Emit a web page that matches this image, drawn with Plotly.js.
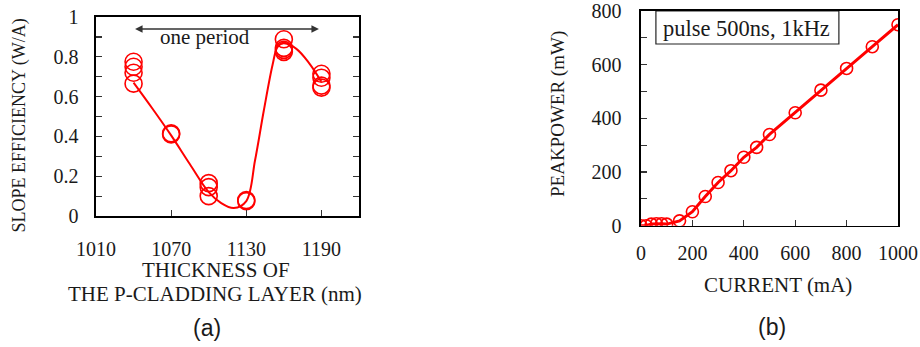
<!DOCTYPE html>
<html>
<head>
<meta charset="utf-8">
<script src="https://cdn.plot.ly/plotly-3.0.1.min.js"></script>
<style>
  html, body { margin: 0; padding: 0; background: #ffffff; }
  #chart { width: 920px; height: 347px; }
</style>
</head>
<body>
<div id="chart"></div>
<script>
// ---- Panel (a): slope efficiency vs p-cladding thickness ----
const thicknessMeasured = [1040, 1040, 1040, 1040, 1070, 1070, 1100, 1100, 1100, 1130, 1130, 1160, 1160, 1160, 1160, 1190, 1190, 1190, 1190];
const slopeMeasured     = [0.775, 0.75, 0.72, 0.665, 0.415, 0.41, 0.165, 0.145, 0.10, 0.08, 0.075, 0.888, 0.845, 0.835, 0.825, 0.715, 0.695, 0.655, 0.645];
// smooth guide line
const thicknessGuide = [1040, 1055, 1070, 1085, 1100, 1110, 1120, 1130, 1137, 1144, 1151, 1155, 1160, 1170, 1180, 1190];
const slopeGuide     = [0.67, 0.54, 0.405, 0.26, 0.12, 0.065, 0.04, 0.075, 0.28, 0.53, 0.76, 0.85, 0.87, 0.84, 0.77, 0.675];

// ---- Panel (b): peak power vs current ----
const currentMA   = [0, 20, 40, 60, 80, 100, 150, 200, 250, 300, 350, 400, 450, 500, 600, 700, 800, 900, 1000];
const peakPowerMW = [0, 0, 6, 7, 7, 6, 18, 52, 109, 161, 205, 255, 292, 340, 421, 505, 586, 667, 749];

const xTicksA = [1010, 1070, 1130, 1190];
const yTicksA = [0, 0.2, 0.4, 0.6, 0.8, 1];
const yTickTextA = ['0', '0.2', '0.4', '0.6', '0.8', '1'];
const xTicksB = [0, 200, 400, 600, 800, 1000];
const yTicksB = [0, 200, 400, 600, 800];

const RED = '#ff0000';
const SERIF = '"Liberation Serif", "Times New Roman", serif';
const SANS = '"Liberation Sans", Arial, sans-serif';
const TXT = '#1a1a1a';
const W = 920, H = 347;
const px = v => v / W;          // paper x from pixel
const py = v => 1 - v / H;      // paper y from pixel

const traces = [
  { x: thicknessGuide, y: slopeGuide, xaxis: 'x', yaxis: 'y', mode: 'lines',
    line: { color: RED, width: 2, shape: 'spline', smoothing: 1 }, hoverinfo: 'skip' },
  { x: thicknessMeasured, y: slopeMeasured, xaxis: 'x', yaxis: 'y', mode: 'markers',
    marker: { symbol: 'circle-open', size: 17, color: RED, line: { width: 1.6, color: RED } } },
  { x: currentMA, y: peakPowerMW, xaxis: 'x2', yaxis: 'y2', mode: 'lines+markers',
    line: { color: RED, width: 3 },
    marker: { symbol: 'circle-open', size: 12, color: RED, line: { width: 1.6, color: RED } } }
];

const axisCommon = {
  showline: true, linecolor: '#000', linewidth: 1.6,
  ticks: 'inside', ticklen: 6, tickwidth: 1.2, tickcolor: '#333',
  showgrid: false, zeroline: false,
  tickfont: { family: SERIF, size: 20, color: TXT },
  automargin: false
};

function label(text, x, y, size, angle, family) {
  return { xref: 'paper', yref: 'paper', x: px(x), y: py(y), xanchor: 'center', yanchor: 'middle',
    text: text, showarrow: false, textangle: angle || 0,
    font: { family: family || SERIF, size: size, color: TXT } };
}

const layout = {
  width: W, height: H,
  margin: { l: 0, r: 0, t: 0, b: 0 },
  paper_bgcolor: '#fff', plot_bgcolor: '#fff',
  showlegend: false,
  font: { family: SERIF, color: TXT },
  xaxis: Object.assign({}, axisCommon, {
    domain: [px(96), px(359)], range: [1010, 1220],
    tickvals: xTicksA, ticktext: xTicksA.map(String), mirror: true,
    ticklabelstandoff: 14
  }),
  yaxis: Object.assign({}, axisCommon, {
    domain: [py(216), py(17)], range: [0, 1],
    tickvals: yTicksA, ticktext: yTickTextA, mirror: 'ticks',
    ticklabelstandoff: 12,
    minor: { dtick: 0.1, ticks: 'inside', ticklen: 6, tickwidth: 1.2, tickcolor: '#333' }
  }),
  xaxis2: Object.assign({}, axisCommon, {
    domain: [px(641), px(898)], range: [0, 1000], anchor: 'y2',
    tickvals: xTicksB, ticktext: xTicksB.map(String), mirror: true,
    ticklabelstandoff: 9
  }),
  yaxis2: Object.assign({}, axisCommon, {
    domain: [py(225.7), py(11)], range: [0, 800], anchor: 'x2',
    tickvals: yTicksB, ticktext: yTicksB.map(String), mirror: true,
    ticklabelstandoff: 14,
    minor: { dtick: 100, ticks: 'inside', ticklen: 6, tickwidth: 1.2, tickcolor: '#333' }
  }),
  shapes: [
    { type: 'rect', xref: 'x2', yref: 'y2', x0: 58, x1: 770, y0: 677, y1: 800,
      line: { color: '#222', width: 1.2 }, fillcolor: 'rgba(0,0,0,0)' }
  ],
  annotations: [
    { xref: 'x', yref: 'y', x: 1188, y: 0.94, ax: 1040, ay: 0.94, axref: 'x', ayref: 'y',
      text: '', showarrow: true, arrowhead: 2, startarrowhead: 2, arrowside: 'end+start',
      arrowsize: 1, arrowwidth: 1.5, arrowcolor: '#333' },
    { xref: 'x', yref: 'y', x: 1097, y: 0.898, text: 'one period', showarrow: false,
      font: { family: SERIF, size: 21, color: TXT } },
    { xref: 'x2', yref: 'y2', x: 409, y: 734, text: 'pulse 500ns, 1kHz', showarrow: false,
      font: { family: SERIF, size: 22.5, color: TXT } },
    // axis titles
    label('SLOPE EFFICIENCY (W/A)', 19.5, 126, 18, -90),
    label('THICKNESS OF', 216, 270, 21),
    label('THE P-CLADDING LAYER (nm)', 215, 294, 21),
    label('PEAKPOWER (mW)', 558, 114, 19, -90),
    label('CURRENT (mA)', 778, 285, 21),
    // panel labels
    label('(a)', 207, 328, 23, 0, SANS),
    label('(b)', 772, 327, 23, 0, SANS)
  ]
};

Plotly.newPlot('chart', traces, layout, { staticPlot: true, displayModeBar: false });
</script>
</body>
</html>
